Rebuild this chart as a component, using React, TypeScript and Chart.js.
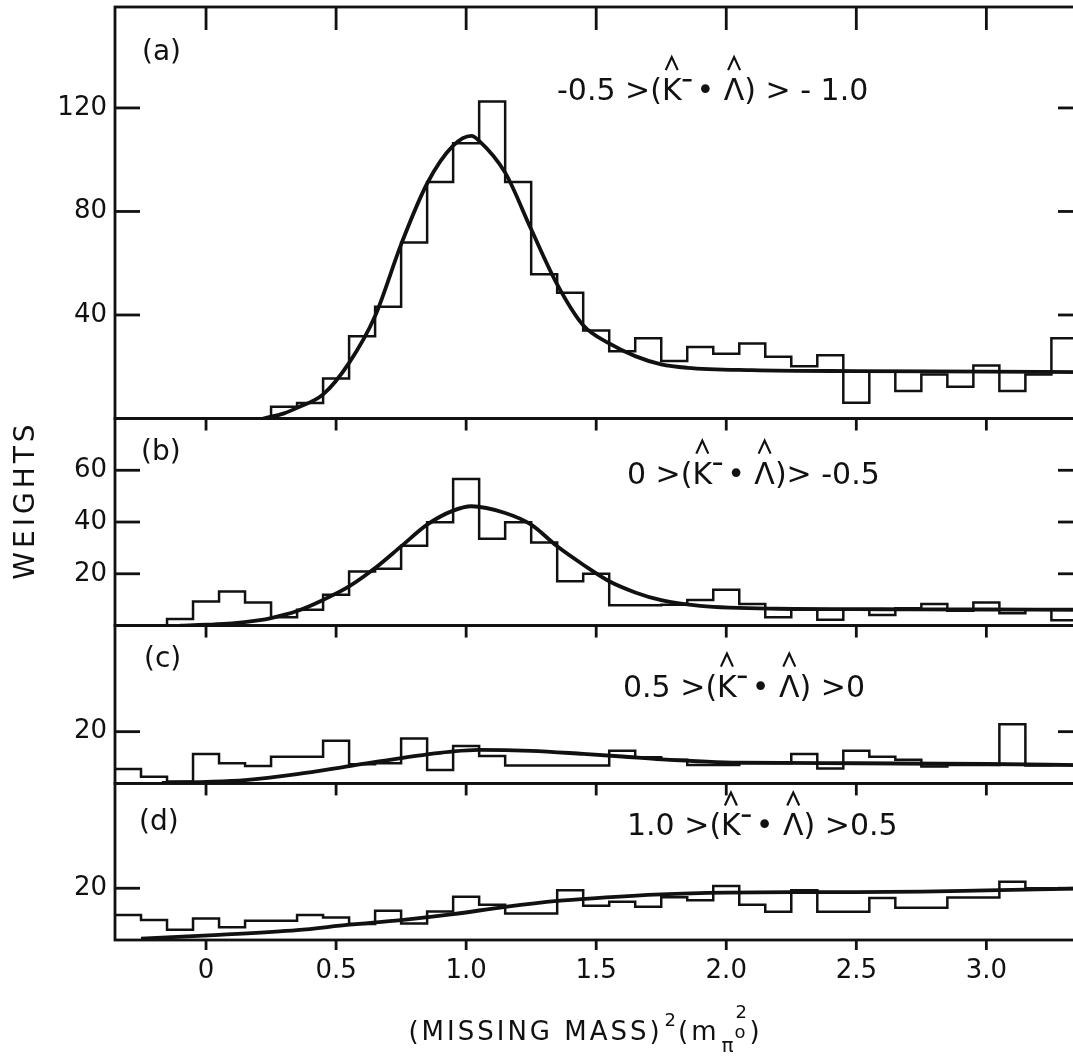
import React, { useEffect, useRef } from 'react';
import { Chart, registerables } from 'chart.js';

Chart.register(...registerables);

// ---------- data ----------
const BIN_EDGES = [
  -0.35, -0.25, -0.15, -0.05, 0.05, 0.15, 0.25, 0.35, 0.45, 0.55, 0.65, 0.75, 0.85,
  0.95, 1.05, 1.15, 1.25, 1.35, 1.45, 1.55, 1.65, 1.75, 1.85, 1.95, 2.05, 2.15,
  2.25, 2.35, 2.45, 2.55, 2.65, 2.75, 2.85, 2.95, 3.05, 3.15, 3.25, 3.35,
];

const HIST_A = [
  0, 0, 0, 0, 0, 0, 4.5, 6.0, 15.5, 31.8, 43.2, 68.0, 91.4, 106.4, 122.5, 91.4, 55.7,
  48.6, 34.0, 26.0, 31.0, 22.2, 27.6, 25.0, 29.0, 23.9, 20.2, 24.4, 6.1, 18.3, 10.6,
  17.0, 12.3, 20.5, 10.6, 17.0, 31.0,
];
const HIST_B = [
  0, 0, 2.5, 9.3, 13.2, 8.9, 3.2, 6.1, 11.9, 20.9, 21.9, 30.8, 39.9, 56.6, 33.5, 39.9,
  32.1, 17.1, 20.0, 7.8, 7.8, 8.0, 9.9, 13.8, 8.3, 3.2, 6.1, 2.2, 6.1, 4.1, 6.7, 8.3,
  5.7, 8.9, 4.8, 6.1, 2.0,
];
const HIST_C = [
  5.6, 2.6, 0.7, 11.4, 7.8, 6.7, 10.3, 10.3, 16.5, 7.4, 7.8, 17.4, 5.2, 14.5, 10.6,
  6.9, 6.9, 6.9, 6.9, 12.6, 10.1, 9.1, 7.1, 7.1, 7.8, 7.8, 11.4, 5.8, 12.6, 10.3, 9.1,
  6.5, 7.1, 7.1, 22.9, 6.9, 7.0,
];
const HIST_D = [
  9.7, 7.7, 4.0, 8.3, 4.9, 7.4, 7.4, 9.7, 8.7, 6.2, 11.3, 6.4, 11.0, 16.7, 13.6, 10.2,
  10.2, 19.2, 13.2, 14.8, 12.8, 16.5, 15.4, 20.9, 13.6, 10.9, 19.2, 10.9, 10.9, 16.2,
  12.5, 12.5, 16.4, 16.4, 22.5, 20.0, 20.0,
];

const CURVE_A_X = [0.22, 0.3, 0.35, 0.45, 0.55, 0.65, 0.75, 0.85, 0.95, 1.02, 1.05, 1.15, 1.25, 1.35, 1.45, 1.55, 1.65, 1.75, 1.85, 2.1, 2.5, 3.0, 3.36];
const CURVE_A_Y = [0, 2.0, 4.1, 9.3, 21.5, 39.6, 67.3, 90.8, 105.4, 109.2, 107.3, 95.0, 73.1, 51.8, 36.0, 29.0, 24.1, 20.9, 19.6, 18.7, 18.3, 18.1, 17.9];

const CURVE_B_X = [-0.1, 0.0, 0.1, 0.2, 0.25, 0.35, 0.45, 0.55, 0.65, 0.75, 0.85, 0.95, 1.02, 1.15, 1.25, 1.35, 1.45, 1.55, 1.65, 1.75, 1.9, 2.2, 2.6, 3.0, 3.36];
const CURVE_B_Y = [0, 0.3, 0.8, 2.0, 2.9, 5.6, 9.9, 15.1, 22.2, 30.6, 39.0, 44.4, 46.1, 43.5, 39.0, 30.6, 23.5, 17.1, 12.8, 9.8, 7.6, 6.5, 6.3, 6.2, 6.1];

const CURVE_C_X = [-0.17, 0.0, 0.15, 0.35, 0.55, 0.75, 0.95, 1.05, 1.25, 1.45, 1.6, 1.75, 2.05, 2.5, 3.0, 3.36];
const CURVE_C_Y = [0.2, 0.6, 1.3, 3.6, 6.7, 9.8, 12.4, 13.0, 12.6, 11.4, 10.4, 9.3, 8.0, 7.8, 7.5, 7.1];

const CURVE_D_X = [-0.25, 0.05, 0.35, 0.55, 0.75, 0.95, 1.15, 1.35, 1.5, 1.75, 2.0, 2.25, 2.5, 2.75, 3.0, 3.36];
const CURVE_D_Y = [0.5, 2.0, 3.8, 5.9, 7.7, 10.0, 12.8, 15.1, 16.2, 17.6, 18.3, 18.5, 18.5, 18.7, 19.2, 19.9];

const X_TICKS = [0, 0.5, 1.0, 1.5, 2.0, 2.5, 3.0];
const X_TICK_LABELS = ['0', '0.5', '1.0', '1.5', '2.0', '2.5', '3.0'];
const TICKS_A = [40, 80, 120];
const TICKS_B = [20, 40, 60];
const TICKS_C = [20];
const TICKS_D = [20];
const PANEL_MAX = [159, 80, 61, 60.5];
const PANEL_LETTERS = ['(a)', '(b)', '(c)', '(d)'];
const COND_LEFT = ['-0.5 >(', '0 >(', '0.5 >(', '1.0 >('];
const COND_RIGHT = [') > - 1.0', ')> -0.5', ') >0', ') >0.5'];
const Y_TITLE = 'WEIGHTS';

// ---------- styling ----------
const INK = '#111111';
const FONT = '"DejaVu Sans", "Liberation Sans", sans-serif';
const Y_IDS = ['ya', 'yb', 'yc', 'yd'];
const PANEL_TICKS = [TICKS_A, TICKS_B, TICKS_C, TICKS_D];
const LETTER_POS = [[27, 53], [26, 41], [29, 41], [24, 47]];
const COND_POS = [[557, 93], [627, 65], [623, 71], [627, 52]];

function histPoints(values: number[]) {
  const pts = values.map((v, i) => ({ x: BIN_EDGES[i], y: v }));
  pts.push({ x: BIN_EDGES[values.length], y: values[values.length - 1] });
  return pts;
}
function curvePoints(xs: number[], ys: number[]) {
  return xs.map((x, i) => ({ x, y: ys[i] }));
}

function line(ctx: CanvasRenderingContext2D, x1: number, y1: number, x2: number, y2: number) {
  ctx.beginPath();
  ctx.moveTo(x1, y1);
  ctx.lineTo(x2, y2);
  ctx.stroke();
}

function hat(ctx: CanvasRenderingContext2D, cx: number, bottom: number) {
  ctx.beginPath();
  ctx.moveTo(cx - 6, bottom);
  ctx.lineTo(cx, bottom - 13);
  ctx.lineTo(cx + 6, bottom);
  ctx.stroke();
}

function drawCond(ctx: CanvasRenderingContext2D, x: number, base: number, left: string, right: string) {
  const size = 30;
  ctx.font = `${size}px ${FONT}`;
  ctx.textAlign = 'left';
  ctx.textBaseline = 'alphabetic';
  let cx = x;
  const put = (s: string) => {
    ctx.fillText(s, cx, base);
    const start = cx;
    cx += ctx.measureText(s).width;
    return start;
  };
  put(left);
  const kx = put('K');
  const kw = ctx.measureText('K').width;
  // superscript minus
  ctx.fillRect(cx + 1, base - size * 0.7, size * 0.3, 2.5);
  cx += size * 0.5;
  put('\u2022 ');
  const lx = put('\u039B');
  const lw = ctx.measureText('\u039B').width;
  put(right);
  ctx.lineWidth = 2.2;
  hat(ctx, kx + kw / 2, base - size * 0.73 - 8);
  hat(ctx, lx + lw / 2, base - size * 0.73 - 8);
}

const decorPlugin = {
  id: 'decor',
  afterDraw(chart: any) {
    const ctx: CanvasRenderingContext2D = chart.ctx;
    const area = chart.chartArea;
    const xs = chart.scales.x;
    ctx.save();
    ctx.strokeStyle = INK;
    ctx.fillStyle = INK;
    ctx.lineCap = 'butt';
    Y_IDS.forEach((id, p) => {
      const s = chart.scales[id];
      ctx.lineWidth = 2.8;
      ctx.strokeRect(area.left, s.top, area.right - area.left, s.bottom - s.top);
      const tl = p === 0 ? 23 : 12;
      X_TICKS.forEach((v) => {
        const px = xs.getPixelForValue(v);
        line(ctx, px, s.top, px, s.top + tl);
      });
      PANEL_TICKS[p].forEach((v) => {
        const py = s.getPixelForValue(v);
        line(ctx, area.left, py, area.left + 25, py);
        line(ctx, area.right - 22, py, area.right, py);
      });
      // panel letter
      ctx.font = `28px ${FONT}`;
      ctx.textAlign = 'left';
      ctx.textBaseline = 'alphabetic';
      ctx.fillText(PANEL_LETTERS[p], area.left + LETTER_POS[p][0], s.top + LETTER_POS[p][1]);
      drawCond(ctx, COND_POS[p][0], s.top + COND_POS[p][1], COND_LEFT[p], COND_RIGHT[p]);
    });
    ctx.lineWidth = 2.8;
    X_TICKS.forEach((v) => {
      const px = xs.getPixelForValue(v);
      line(ctx, px, area.bottom, px, area.bottom + 10);
    });

    // y title
    ctx.save();
    ctx.translate(34, 500);
    ctx.rotate(-Math.PI / 2);
    ctx.font = `28px ${FONT}`;
    (ctx as any).letterSpacing = '4px';
    ctx.textAlign = 'center';
    ctx.textBaseline = 'alphabetic';
    ctx.fillText(Y_TITLE, 0, 0);
    ctx.restore();

    // x title: (MISSING MASS)^2 (m_{pi^0}^2)
    const base = 1040;
    const parts: Array<[string, number, number, boolean]> = [
      ['(MISSING MASS)', 26, 0, true],
      ['2', 18, -14, false],
      ['(m', 26, 0, true],
    ];
    ctx.textAlign = 'left';
    ctx.textBaseline = 'alphabetic';
    let total = 0;
    parts.forEach(([t, sz, , sp]) => {
      ctx.font = `${sz}px ${FONT}`;
      (ctx as any).letterSpacing = sp ? '3px' : '0px';
      total += ctx.measureText(t).width + 2;
    });
    let cx = 590 - (total + 50) / 2;
    parts.forEach(([t, sz, dy, sp]) => {
      ctx.font = `${sz}px ${FONT}`;
      (ctx as any).letterSpacing = sp ? '3px' : '0px';
      ctx.fillText(t, cx, base + dy);
      cx += ctx.measureText(t).width + 2;
    });
    (ctx as any).letterSpacing = '0px';
    ctx.font = `20px ${FONT}`;
    ctx.fillText('\u03C0', cx, base + 12);
    cx += ctx.measureText('\u03C0').width + 1;
    ctx.font = `18px ${FONT}`;
    ctx.fillText('o', cx, base - 2);
    ctx.fillText('2', cx + 1, base - 22);
    cx += ctx.measureText('o').width + 4;
    ctx.font = `26px ${FONT}`;
    ctx.fillText(')', cx, base);
    ctx.restore();
  },
};

function yScale(max: number, ticks: number[]) {
  return {
    type: 'linear',
    position: 'left',
    stack: 'panels',
    stackWeight: max,
    min: 0,
    max,
    offset: false,
    grid: { display: false, drawTicks: false },
    border: { display: false },
    afterBuildTicks: (s: any) => {
      s.ticks = ticks.map((v) => ({ value: v }));
    },
    afterFit: (s: any) => {
      s.width = 115;
      s.paddingTop = 0;
      s.paddingBottom = 0;
    },
    ticks: {
      padding: 8,
      color: INK,
      font: { family: FONT, size: 26 },
      callback: (v: number) => String(v),
    },
  };
}

export default function App() {
  const ref = useRef<HTMLCanvasElement>(null);
  useEffect(() => {
    if (!ref.current) return;
    const histStyle = {
      borderColor: INK,
      borderWidth: 2.5,
      pointRadius: 0,
      stepped: true,
      fill: false,
    };
    const curveStyle = {
      borderColor: INK,
      borderWidth: 3.8,
      pointRadius: 0,
      cubicInterpolationMode: 'monotone',
      fill: false,
    };
    const chart = new Chart(ref.current, {
      type: 'line',
      data: {
        datasets: [
          { ...histStyle, yAxisID: 'ya', data: histPoints(HIST_A) },
          { ...curveStyle, yAxisID: 'ya', data: curvePoints(CURVE_A_X, CURVE_A_Y) },
          { ...histStyle, yAxisID: 'yb', data: histPoints(HIST_B) },
          { ...curveStyle, yAxisID: 'yb', data: curvePoints(CURVE_B_X, CURVE_B_Y) },
          { ...histStyle, yAxisID: 'yc', data: histPoints(HIST_C) },
          { ...curveStyle, yAxisID: 'yc', data: curvePoints(CURVE_C_X, CURVE_C_Y) },
          { ...histStyle, yAxisID: 'yd', data: histPoints(HIST_D) },
          { ...curveStyle, yAxisID: 'yd', data: curvePoints(CURVE_D_X, CURVE_D_Y) },
        ] as any,
      },
      options: {
        animation: false,
        responsive: false,
        maintainAspectRatio: false,
        devicePixelRatio: 1,
        layout: { padding: { left: 0, right: 15, top: 7, bottom: 0 } },
        plugins: { legend: { display: false }, tooltip: { enabled: false } },
        scales: {
          x: {
            type: 'linear',
            position: 'bottom',
            min: -0.35,
            max: 3.36,
            grid: { display: false, drawTicks: false },
            border: { display: false },
            afterBuildTicks: (s: any) => {
              s.ticks = X_TICKS.map((v) => ({ value: v }));
            },
            afterFit: (s: any) => {
              s.height = 117;
              s.paddingLeft = 0;
              s.paddingRight = 0;
            },
            ticks: {
              padding: 16,
              maxRotation: 0,
              color: INK,
              font: { family: FONT, size: 26 },
              callback: (v: number) => X_TICK_LABELS[X_TICKS.indexOf(v)] ?? '',
            },
          },
          // stacked scales are placed bottom-up in definition order
          yd: yScale(PANEL_MAX[3], TICKS_D),
          yc: yScale(PANEL_MAX[2], TICKS_C),
          yb: yScale(PANEL_MAX[1], TICKS_B),
          ya: yScale(PANEL_MAX[0], TICKS_A),
        } as any,
      },
      plugins: [decorPlugin],
    });
    return () => chart.destroy();
  }, []);

  return (
    <div style={{ position: 'fixed', left: 0, top: 0, width: 1073, height: 1057, overflow: 'hidden', background: '#fff' }}>
      <canvas ref={ref} width={1095} height={1057} style={{ width: 1095, height: 1057, display: 'block' }} />
    </div>
  );
}
